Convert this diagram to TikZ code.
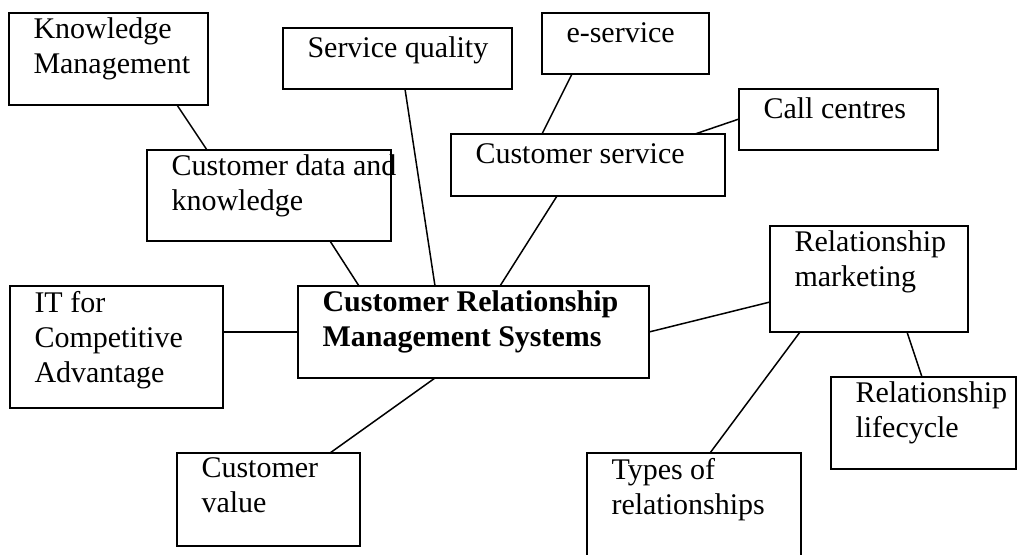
\documentclass[tikz,border=0pt]{standalone}
\usepackage{fontspec}
\setmainfont{Liberation Serif}
\tikzset{%
  topic/.style={draw, line width=0.8pt, anchor=north west, inner sep=0pt, outer sep=0pt},%
  topictext/.style={anchor=north west, align=left, inner xsep=9.6pt, inner ysep=1.8pt,%
    font=\fontsize{12}{14}\selectfont, execute at begin node=\strut},%
  link/.style={line width=0.6pt},%
}

\begin{document}
\begin{tikzpicture}[x=0.4pt,y=-0.4pt]%
  \useasboundingbox (0,0) rectangle (1017,554);%
  \clip (0,0) rectangle (1017,554);%
  % Boxes: name / left / top / width / height / text
  \foreach \name/\x/\y/\w/\h/\txt in {%
      km/9/13/199/92/{Knowledge\\Management},%
      sq/283/28/229/61/{Service quality},%
      es/542/13/167/61/{e-service},%
      cc/739/89/199/61/{Call centres},%
      cs/451/134/274/62/{Customer service},%
      cdk/147/150/244/91/{Customer data and\\knowledge},%
      rm/770/226/198/106/{Relationship\\marketing},%
      it/10/286/213/122/{IT for\\Competitive\\Advantage},%
      crm/298/286/351/92/{\textbf{Customer Relationship}\\\textbf{Management Systems}},%
      cv/177/453/183/93/{Customer\\value},%
      tr/587/453/214/120/{Types of\\relationships},%
      rl/831/377/185/92/{Relationship\\lifecycle}%
    }{%
      \node[topic, minimum width=\w*0.4pt, minimum height=\h*0.4pt] (\name) at (\x,\y) {};%
      \node[topictext] (\name-text) at (\name.north west) {\txt};%
    };%
  % Links: from / offset from its north west corner / to / offset
  \foreach \a/\ax/\ay/\b/\bx/\by in {%
      km/168/92/cdk/60/0,%
      cdk/183/91/crm/61/0,%
      sq/122/61/crm/137/0,%
      cs/106/62/crm/202/0,%
      es/30/61/cs/91/0,%
      cc/0/30/cs/244/0,%
      it/213/46/crm/0/46,%
      crm/351/46/rm/0/76,%
      crm/137/92/cv/153/0,%
      rm/30/106/tr/123/0,%
      rm/137/106/rl/91/0%
    }{%
      \draw[link] ([shift={(\ax,\ay)}]\a.north west) -- ([shift={(\bx,\by)}]\b.north west);%
    };%
\end{tikzpicture}
\end{document}
